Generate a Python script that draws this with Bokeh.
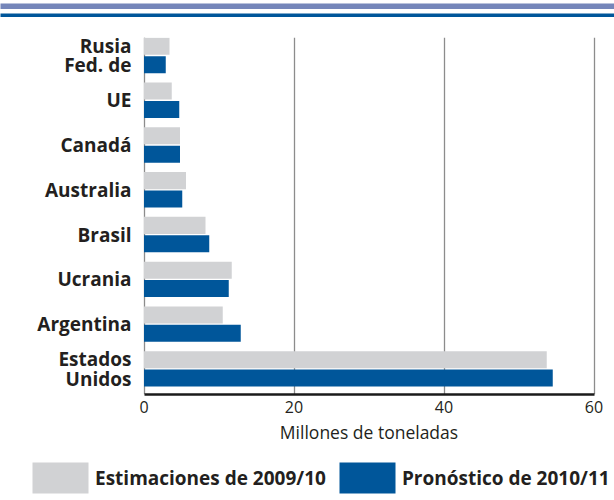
from bokeh.plotting import figure
from bokeh.models import (Range1d, FixedTicker, Legend, LegendItem,
                          ColumnDataSource, Label)
from bokeh.core.properties import value
from bokeh.layouts import column
from bokeh.embed import file_html
from bokeh.resources import INLINE

# ---- data ----
countries = ["Rusia\nFed. de", "UE", "Canadá", "Australia", "Brasil",
             "Ucrania", "Argentina", "Estados\nUnidos"]
est_2009_10 = [3.4, 3.7, 4.8, 5.6, 8.2, 11.7, 10.5, 53.7]
pron_2010_11 = [2.9, 4.7, 4.8, 5.1, 8.7, 11.3, 12.9, 54.5]
x_ticks = [0, 20, 40, 60]
x_label = "Millones de toneladas"
legend_labels = ["Estimaciones de 2009/10", "Pronóstico de 2010/11"]

GRAY = "#d1d2d4"
BLUE = "#00569a"
LIGHT_BAND = "#7586ba"
TEXT = "#231f20"
FONT = "Open Sans"
W, H = 614, 500

n = len(countries)
pos = [n - 1 - i for i in range(n)]
src = ColumnDataSource(dict(
    pos=pos,
    pos_gray=[v + 0.205 for v in pos],
    pos_blue=[v - 0.205 for v in pos],
    est=est_2009_10,
    pron=pron_2010_11,
    name=countries,
))


def band(color, h):
    b = figure(width=W, height=h, output_backend="svg", toolbar_location=None,
               x_axis_location=None, y_axis_location=None,
               background_fill_color=color, border_fill_color=color,
               min_border_top=0, min_border_left=0, min_border_right=0,
               min_border_bottom=0)
    b.grid.visible = False
    b.outline_line_color = None
    return b


BAND_L, BAND_D = 9, 8
band_light = band(LIGHT_BAND, BAND_L)
band_dark = band(BLUE, BAND_D)

# ---- main chart ----
PX = 7.5            # pixels per unit on x
X0 = 143.5          # pixel of x = 0
x_range = Range1d(-X0 / PX, (W - X0) / PX)
TOP, FRAME_H, BOTTOM = 20, 357, 22
P_H = TOP + FRAME_H + BOTTOM
p = figure(width=W, height=P_H, output_backend="svg", toolbar_location=None,
           x_range=x_range, y_range=Range1d(-0.574, 7.403),
           y_axis_location=None,
           min_border_left=0, min_border_right=0, min_border_top=TOP,
           min_border_bottom=BOTTOM)
p.outline_line_color = None

p.hbar(y="pos_gray", left=0, right="est", height=0.38, source=src,
       fill_color=GRAY, line_color=None)
p.hbar(y="pos_blue", left=0, right="pron", height=0.38, source=src,
       fill_color=BLUE, line_color=None)

# category labels (left of the zero line)
p.text(x=-1.67, y="pos", text="name", source=src, text_align="right",
       text_baseline="middle", text_font=value(FONT), text_font_size="19px",
       text_font_style="bold", text_color=TEXT, text_line_height=0.76)

p.ygrid.grid_line_color = None

# x axis
p.xaxis.ticker = FixedTicker(ticks=x_ticks)
p.xaxis.bounds = (x_ticks[0], x_ticks[-1])
p.xaxis.axis_line_color = "#1a1a1a"
p.xaxis.axis_line_width = 2.5
p.xaxis.major_tick_line_color = None
p.xaxis.minor_tick_line_color = None
p.xaxis.major_label_standoff = 0
p.xaxis.major_label_text_font = FONT
p.xaxis.major_label_text_font_size = "16px"
p.xaxis.major_label_text_color = TEXT
p.xgrid.ticker = FixedTicker(ticks=x_ticks)
p.xgrid.grid_line_color = "#8c8c8c"
p.xgrid.grid_line_width = 1.3

# ---- strip under the chart: axis title + legend ----
LEG_H = H - BAND_L - BAND_D - P_H
leg = figure(width=W, height=LEG_H, output_backend="svg",
             toolbar_location=None, x_range=x_range,
             y_range=Range1d(0, LEG_H),
             x_axis_location=None, y_axis_location=None,
             min_border_top=0, min_border_left=0, min_border_right=0,
             min_border_bottom=0)
leg.grid.visible = False
leg.outline_line_color = None
leg.extra_y_ranges = {"swatch": Range1d(100, 101)}   # keeps swatch bars out of view
lg_gray = leg.hbar(y="pos_gray", left=0, right="est", height=0.38, source=src,
                   fill_color=GRAY, line_color=None, y_range_name="swatch")
lg_blue = leg.hbar(y="pos_blue", left=0, right="pron", height=0.38, source=src,
                   fill_color=BLUE, line_color=None, y_range_name="swatch")

# axis title, centred under the 0-60 scale
leg.add_layout(Label(x=(x_ticks[0] + x_ticks[-1]) / 2, y=H - 431, text=x_label,
                     text_align="center", text_baseline="alphabetic",
                     text_font=FONT, text_font_size="17.5px", text_color=TEXT))

legend = Legend(
    items=[LegendItem(label=legend_labels[0], renderers=[lg_gray]),
           LegendItem(label=legend_labels[1], renderers=[lg_blue])],
    orientation="horizontal", location=(25, 3),
    glyph_width=70, glyph_height=39, label_standoff=0, spacing=6,
    padding=0, margin=0, border_line_color=None, background_fill_alpha=0,
    label_text_font=FONT, label_text_font_size="19px",
    label_text_font_style="bold", label_text_color=TEXT,
)
leg.add_layout(legend)

layout = column(band_light, band_dark, p, leg)
open("out.html", "w").write(file_html(layout, INLINE))
